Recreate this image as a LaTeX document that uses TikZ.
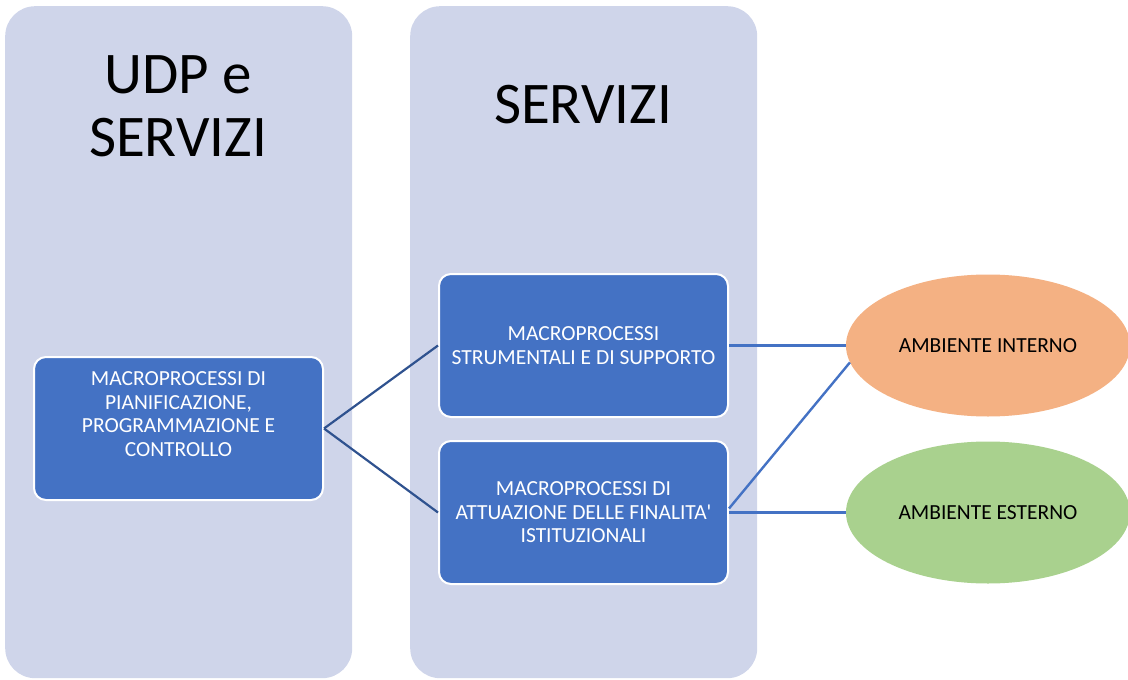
\documentclass[tikz,border=0pt]{standalone}
\usepackage{fontspec}
\setmainfont{Carlito}
\usetikzlibrary{shapes.geometric}
\definecolor{colfill}{HTML}{CFD5EA}
\definecolor{boxblue}{HTML}{4472C4}
\definecolor{linkdark}{HTML}{2F528F}
\definecolor{envorange}{HTML}{F4B183}
\definecolor{envgreen}{HTML}{A9D18E}
\tikzset{
  column/.style={rectangle, rounded corners=30pt, fill=colfill, draw=none,
    minimum width=347pt, minimum height=672pt, anchor=north west},
  title/.style={font=\fontsize{59}{63}\selectfont, align=center, text=black},
  procbox/.style={rectangle, rounded corners=12pt, fill=boxblue, draw=white,
    line width=2pt, minimum width=289pt, minimum height=143pt},
  proctext/.style={font=\fontsize{21.5}{23.5}\selectfont, text=white, align=center},
  envnode/.style={ellipse, draw=none, minimum width=284pt, minimum height=142pt,
    font=\fontsize{21.5}{24}\selectfont, text=black},
  linkmain/.style={draw=linkdark, line width=2.2pt},
  linkenv/.style={draw=boxblue, line width=2.4pt},
}
\begin{document}
\begin{tikzpicture}[x=1pt, y=-1pt]
  \useasboundingbox (0,0) rectangle (1128,680);
  % background columns
  \node[column] (colA) at (5,6) {};
  \node[column] (colB) at (410,6) {};
  \node[title] (titleA) at (178,106) {UDP e\\SERVIZI};
  \node[title] (titleB) at (583,105) {SERVIZI};
  % process boxes
  \node[procbox] (plan) at (178.5,428.5) {};
  \node[proctext] (planlbl) at (178.5,414) {MACROPROCESSI DI\\PIANIFICAZIONE,\\PROGRAMMAZIONE E\\CONTROLLO};
  \node[procbox, proctext] (supp) at (583.5,345.5) {MACROPROCESSI\\STRUMENTALI E DI SUPPORTO};
  \node[procbox, proctext] (inst) at (583.5,512.5) {MACROPROCESSI DI\\ATTUAZIONE DELLE FINALITA\textquotesingle\\ISTITUZIONALI};
  % environments
  \node[envnode, fill=envorange] (intern) at (988,345.5) {AMBIENTE INTERNO};
  \node[envnode, fill=envgreen] (extern) at (988,512.5) {AMBIENTE ESTERNO};
  % connectors
  \draw[linkmain] (plan.east) -- (supp.west);
  \draw[linkmain] (plan.east) -- (inst.west);
  \draw[linkenv] (supp.east) -- (intern.west);
  \draw[linkenv] (inst.east) -- (extern.west);
  \draw[linkenv] ([yshift=4pt]inst.east) -- (intern.187);
\end{tikzpicture}
\end{document}
